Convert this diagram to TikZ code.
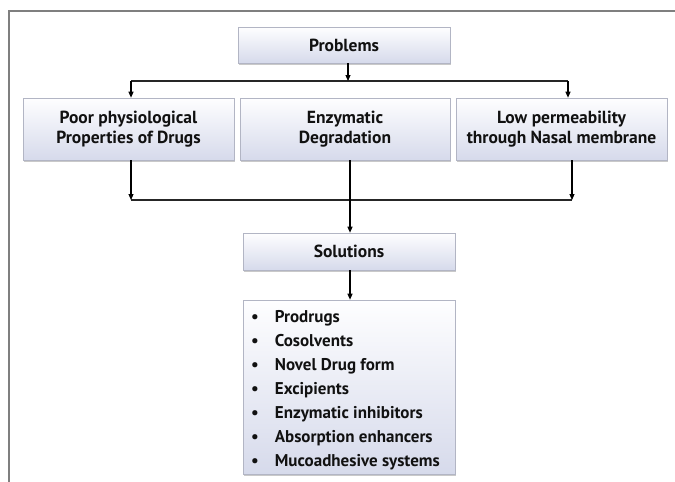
\documentclass[tikz,border=0pt]{standalone}
\usepackage{fontspec}
\setmainfont{PT Sans}
\usetikzlibrary{shadows,arrows.meta}
\definecolor{boxtop}{HTML}{FEFEFF}
\definecolor{boxbot}{HTML}{D6DAEB}
\definecolor{boxline}{HTML}{B2B5C4}
\definecolor{framegray}{HTML}{7F7F7F}
\definecolor{txt}{HTML}{111111}
\begin{document}
\begin{tikzpicture}[x=1pt,y=-1pt,
  box/.style={draw=boxline, line width=0.6pt, top color=boxtop, bottom color=boxbot,
    drop shadow={shadow xshift=1.2pt, shadow yshift=-2pt, opacity=0.35, fill=black!60},
    inner sep=0pt, align=center, text=txt,
    font=\fontsize{17.5}{20.5}\selectfont\bfseries},
  arr/.style={draw=black, line width=1.1pt, -{Triangle[length=6pt,width=5pt]}},
  hline/.style={draw=black!85, line width=1.7pt}]
\useasboundingbox (0,0) rectangle (675,482);
\fill[white] (0,0) rectangle (675,482);
% frame
\draw[framegray, line width=1.6pt] (9,482) -- (9,11) -- (675,11);
% boxes
\node[box, minimum width=212pt, minimum height=36pt] (prob) at (344,45) {Problems};
\node[box, minimum width=211pt, minimum height=62pt] (left) at (128.5,129) {Poor physiological\\Properties of Drugs};
\node[box, minimum width=210pt, minimum height=62pt] (mid) at (345,129) {Enzymatic\\Degradation};
\node[box, minimum width=211pt, minimum height=62pt] (right) at (561.5,129) {Low permeability\\through Nasal membrane};
\node[box, minimum width=212pt, minimum height=37pt] (sol) at (349,251.5) {Solutions};
\node[box, minimum width=212pt, minimum height=174pt] (list) at (349,387) {};
\node[anchor=west, inner sep=0pt, text=txt, font=\fontsize{17}{24}\selectfont\bfseries] (items) at (251,390) {%
  \begin{tabular}{@{}l@{\hspace{16pt}}l@{}}
  \textbullet & Prodrugs\\
  \textbullet & Cosolvents\\
  \textbullet & Novel Drug form\\
  \textbullet & Excipients\\
  \textbullet & Enzymatic inhibitors\\
  \textbullet & Absorption enhancers\\
  \textbullet & Mucoadhesive systems
  \end{tabular}};
% top connectors
\coordinate (tj) at (348,81);
\coordinate (tl) at (131,81);
\coordinate (tr) at (568,81);
\draw[hline] (tl) -- (tr);
\draw[arr] (prob.south -| tj) -- (tj);
\draw[arr] (tl) -- (tl |- left.north);
\draw[arr] (tr) -- (tr |- right.north);
% bottom connectors
\coordinate (bl) at (131,200);
\coordinate (br) at (572,200);
\coordinate (bm) at (350,200);
\draw[hline] (bl) -- (br);
\draw[arr] (left.south -| bl) -- (bl);
\draw[arr] (right.south -| br) -- (br);
\draw[arr] (mid.south -| bm) -- (sol.north -| bm);
\draw[arr] (sol.south -| bm) -- (list.north -| bm);
\end{tikzpicture}
\end{document}
